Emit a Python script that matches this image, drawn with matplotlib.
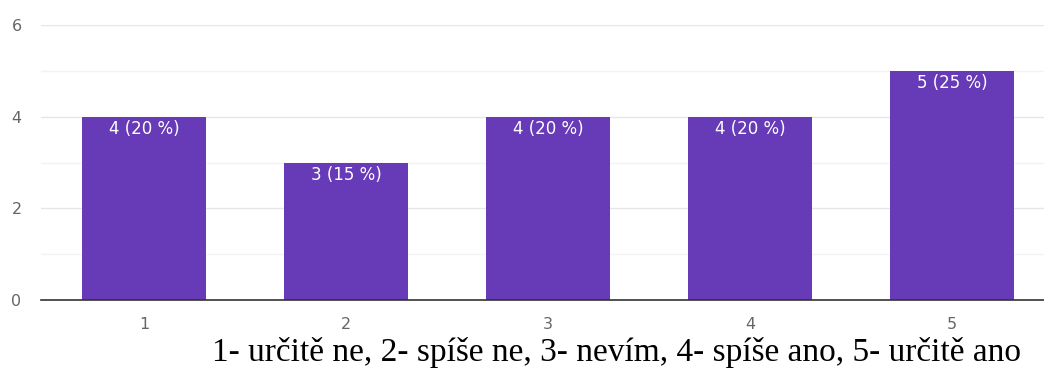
import matplotlib.pyplot as plt
from matplotlib.ticker import MultipleLocator

categories = ['1', '2', '3', '4', '5']
counts = [4, 3, 4, 4, 5]
labels = ['4 (20 %)', '3 (15 %)', '4 (20 %)', '4 (20 %)', '5 (25 %)']
caption = '1- určitě ne, 2- spíše ne, 3- nevím, 4- spíše ano, 5- určitě ano'

fig = plt.figure(figsize=(10.44, 3.72), dpi=100)
ax = fig.add_axes([41 / 1044, 72 / 372, 1003 / 1044, 275 / 372])

x = range(len(categories))
bars = ax.bar(x, counts, width=0.615, color='#673ab7', zorder=3)
for b, lab in zip(bars, labels):
    ax.text(b.get_x() + b.get_width() / 2, b.get_height() - 0.07, lab,
            ha='center', va='top', color='white', fontsize=12, zorder=4)

ax.set_xlim(-0.51, 4.455)
ax.set_ylim(0, 6)
ax.set_xticks(list(x))
ax.set_xticklabels(categories)
ax.yaxis.set_major_locator(MultipleLocator(2))
ax.yaxis.set_minor_locator(MultipleLocator(1))
ax.grid(which='major', axis='y', color='#e6e6e6', linewidth=1, zorder=0)
ax.grid(which='minor', axis='y', color='#f3f3f3', linewidth=1, zorder=0)
ax.tick_params(which='both', length=0, labelsize=11.5, labelcolor='#666666')
ax.tick_params(axis='x', pad=12)
ax.tick_params(axis='y', pad=14)
for s in ['top', 'right', 'left']:
    ax.spines[s].set_visible(False)
ax.spines['bottom'].set_color('#333333')
ax.spines['bottom'].set_linewidth(1.2)
ax.spines['bottom'].set_zorder(5)

fig.text(617 / 1044, 1 - 353 / 372, caption, ha='center', va='center',
         fontsize=24, family='Liberation Serif', color='black')

fig.savefig('out.png', dpi=100)
